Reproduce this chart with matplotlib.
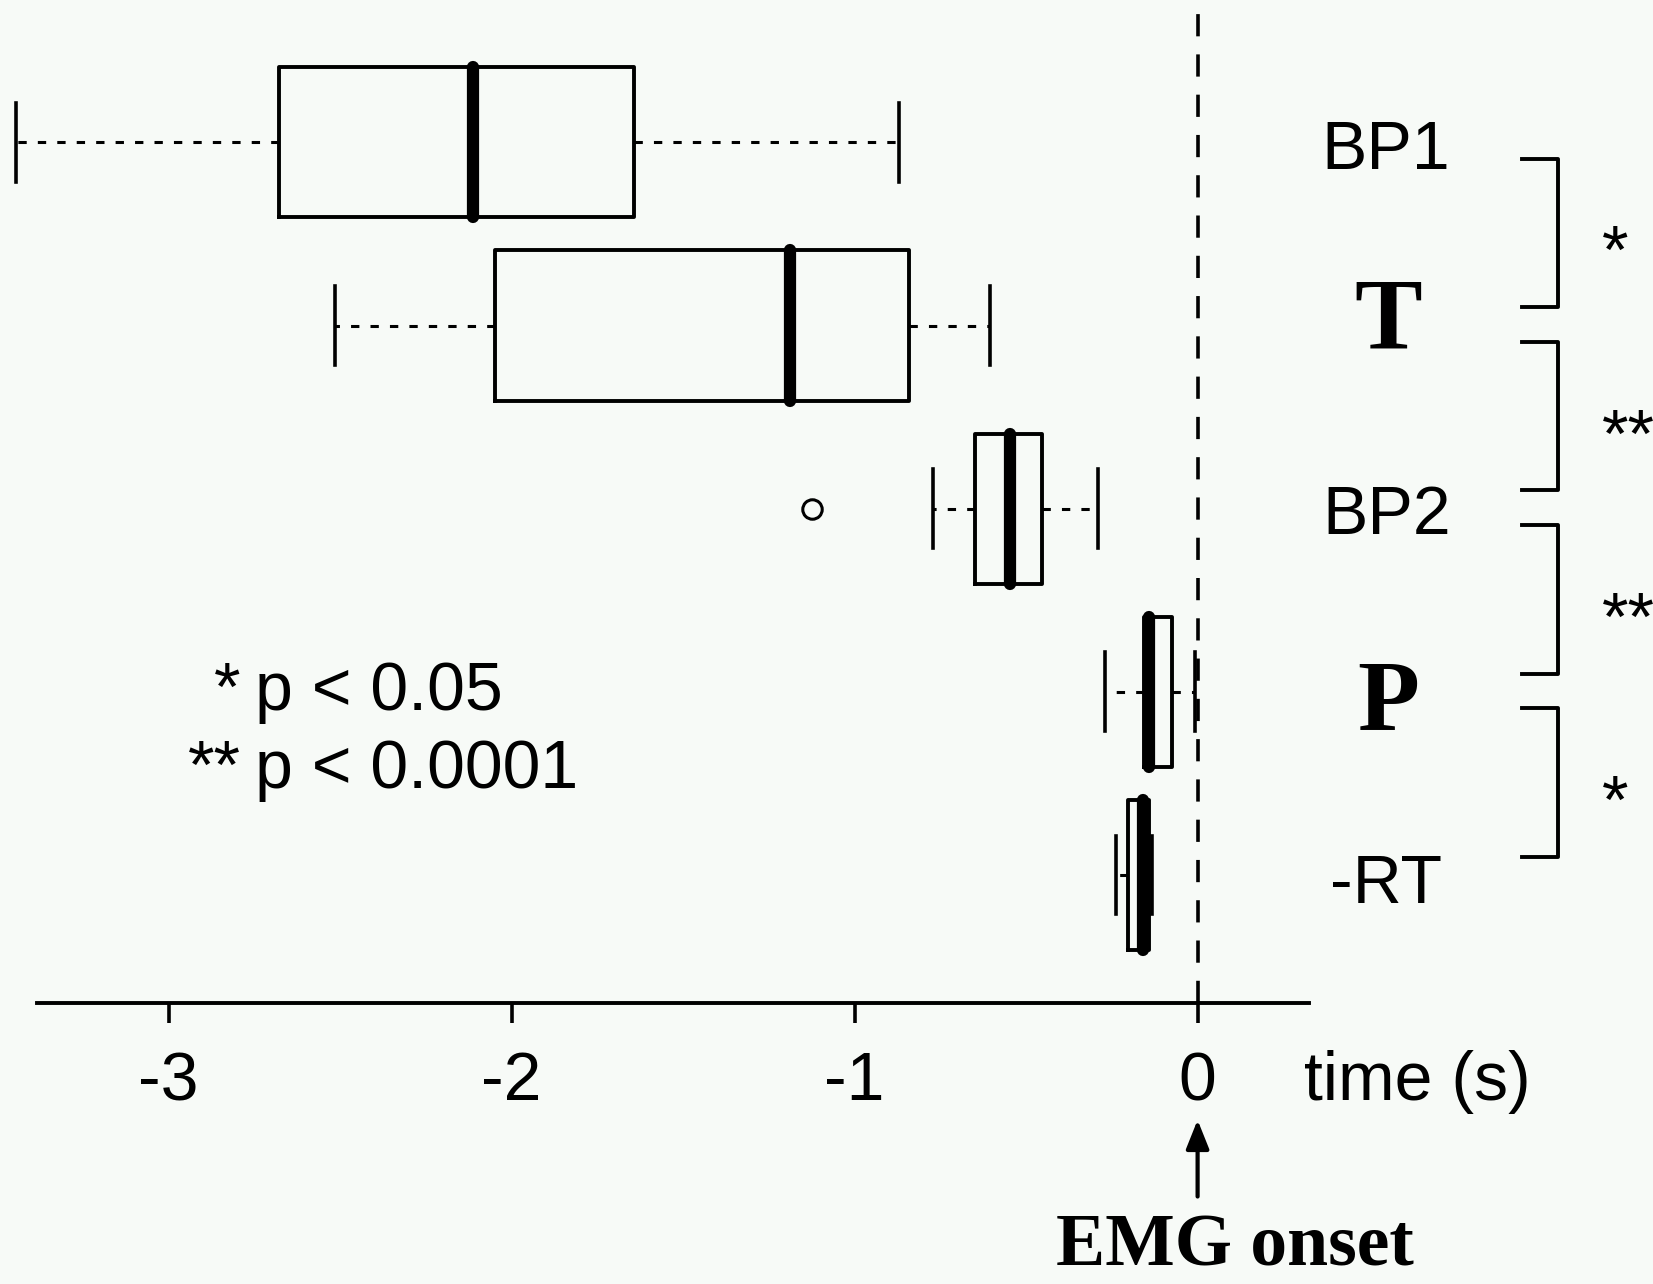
"""
Boxplots of premovement event timing relative to EMG onset
"""

import matplotlib.pyplot as plt

plt.rcParams['axes.unicode_minus'] = False
plt.rcParams['lines.scale_dashes'] = False

# data (seconds, relative to EMG onset)
labels = ['BP1', 'T', 'BP2', 'P', '-RT']
positions = [5, 4, 3, 2, 1]
whisker_low = [-3.446, -2.515, -0.772, -0.270, -0.238]
q1 = [-2.678, -2.047, -0.649, -0.156, -0.202]
medians = [-2.112, -1.187, -0.547, -0.142, -0.158]
q3 = [-1.642, -0.842, -0.455, -0.076, -0.142]
whisker_high = [-0.870, -0.606, -0.289, -0.008, -0.133]
outliers = [[], [], [-1.125], [], []]

comparisons = [('BP1', 'T', '*'), ('T', 'BP2', '**'),
               ('BP2', 'P', '**'), ('P', '-RT', '*')]
xticks = [-3, -2, -1, 0]
xtick_labels = ['-3', '-2', '-1', '0']

SANS = 'Liberation Sans'
SERIF = 'Liberation Serif'
BG = '#f7faf7'
FS = 49

fig = plt.figure(figsize=(16.53, 12.84), dpi=100, facecolor=BG)
ax = fig.add_axes([0, 0, 1, 1], facecolor=BG)
ax.set_xlim(-3.4915, 1.3277)
ax.set_ylim(-1.2325, 5.777)

stats = []
for i in range(len(labels)):
    stats.append(dict(med=medians[i], q1=q1[i], q3=q3[i],
                      whislo=whisker_low[i], whishi=whisker_high[i],
                      fliers=outliers[i], label=labels[i]))

ax.bxp(stats, positions=positions, widths=0.82, capwidths=0.43,
       orientation='horizontal', showfliers=True,
       boxprops=dict(color='black', linewidth=2.8),
       medianprops=dict(color='black', linewidth=8.8, solid_capstyle='round'),
       whiskerprops=dict(color='black', linewidth=2.2, linestyle=(0, (6, 8))),
       capprops=dict(color='black', linewidth=2.6),
       flierprops=dict(marker='o', markersize=14, markerfacecolor='none',
                       markeredgecolor='black', markeredgewidth=2.2))

# axis styling (R-like bare x axis)
axis_y = 0.304
for side in ['left', 'right', 'top']:
    ax.spines[side].set_visible(False)
ax.spines['bottom'].set_position(('data', axis_y))
ax.spines['bottom'].set_bounds(-3.385, 0.326)
ax.spines['bottom'].set_linewidth(2.8)
ax.set_yticks([])
ax.set_xticks(xticks)
ax.set_xticklabels(xtick_labels, fontsize=FS, family=SANS)
ax.tick_params(axis='x', direction='out', length=14.4, width=2.6, pad=20)

# EMG onset reference line
ax.vlines(0, axis_y, 5.72, colors='black', linewidth=2.6, linestyles=(0, (16, 13)))
ax.annotate('', xy=(0, -0.337), xytext=(0, -0.755),
            arrowprops=dict(arrowstyle='-|>,head_length=0.55,head_width=0.22',
                            color='black', lw=3, mutation_scale=32,
                            shrinkA=0, shrinkB=0))
ax.text(0.11, -1.13, 'EMG onset', fontsize=53, family=SERIF, weight='bold',
        ha='center', va='baseline')
ax.text(0.31, -0.228, 'time (s)', fontsize=FS, family=SANS, ha='left', va='baseline')

# row labels on the right
label_y = [4.853, 3.876, 2.86, 1.792, 0.845]
for lab, ly in zip(labels, label_y):
    if lab in ('T', 'P'):
        ax.text(0.557, ly, lab, fontsize=73, family=SERIF, weight='bold',
                ha='center', va='baseline')
    else:
        ax.text(0.55, ly, lab, fontsize=FS, family=SANS, ha='center', va='baseline')

# significance brackets
pos_of = dict(zip(labels, positions))
for a, b, star in comparisons:
    top = pos_of[a] - 0.09
    bot = pos_of[b] + 0.1
    ax.plot([0.945, 1.052, 1.052, 0.945], [top, top, bot, bot],
            color='black', linewidth=2.8, clip_on=False)
    ax.text(1.178, (top + bot) / 2 - 0.22, star, fontsize=FS, family=SANS,
            ha='left', va='baseline')

# legend for significance levels
ax.text(-2.79, 1.901, '*', fontsize=FS, family=SANS, ha='right', va='baseline')
ax.text(-2.748, 1.901, 'p < 0.05', fontsize=FS, family=SANS, ha='left', va='baseline')
ax.text(-2.79, 1.474, '**', fontsize=FS, family=SANS, ha='right', va='baseline')
ax.text(-2.748, 1.474, 'p < 0.0001', fontsize=FS, family=SANS, ha='left', va='baseline')

plt.savefig('out.png', dpi=100, facecolor=BG)
plt.close()
